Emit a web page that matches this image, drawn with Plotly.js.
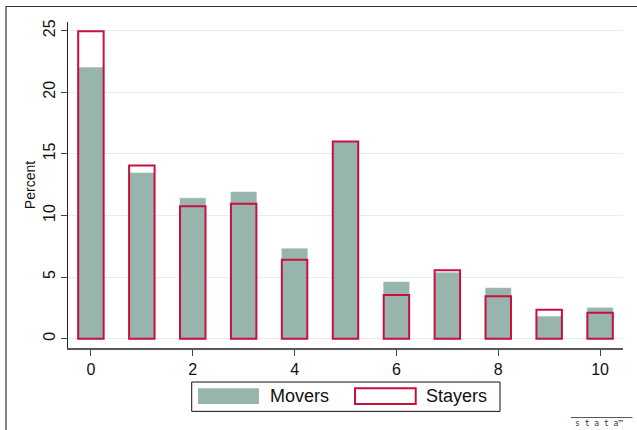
<!DOCTYPE html>
<html>
<head>
<meta charset="utf-8">
<script src="https://cdn.plot.ly/plotly-3.0.1.min.js"></script>
<style>
  html, body { margin: 0; padding: 0; background: #ffffff; }
  #chart { width: 637px; height: 430px; }
</style>
</head>
<body>
<div id="chart"></div>
<script>
// ---- data ----
const categories = [0, 1, 2, 3, 4, 5, 6, 7, 8, 9, 10];
const movers  = [22.0, 13.45, 11.4, 11.9, 7.3, 16.0, 4.6, 5.35, 4.1, 1.8, 2.5];
const stayers = [24.95, 14.05, 10.75, 10.95, 6.4, 16.0, 3.55, 5.55, 3.45, 2.35, 2.1];
const seriesNames = ["Movers", "Stayers"];
const xTicks = [0, 2, 4, 6, 8, 10];
const yTicks = [0, 5, 10, 15, 20, 25];

const FONT = "Liberation Sans, Arial, Helvetica, sans-serif";
const moverColor = "#97b5ad";
const stayerColor = "#c8103e";

const traces = [
  {
    type: "bar", name: seriesNames[0], x: categories, y: movers, width: 0.5,
    marker: { color: moverColor, line: { color: "#a3bdb6", width: 0.6 } },
    showlegend: false
  },
  {
    type: "bar", name: seriesNames[1], x: categories, y: stayers, width: 0.5,
    marker: { color: "rgba(0,0,0,0)", line: { color: stayerColor, width: 2 } },
    showlegend: false
  }
];

// legend drawn in paper coordinates
const legY0 = -0.1234, legY1 = -0.1719, legYc = -0.1483;
const layout = {
  width: 637, height: 430, autosize: false,
  paper_bgcolor: "#ffffff", plot_bgcolor: "#ffffff",
  margin: { l: 68, r: 14, t: 22, b: 82, pad: 0 },
  barmode: "overlay",
  font: { family: FONT, color: "#111111" },
  xaxis: {
    range: [-0.45, 10.45], tickvals: xTicks, ticktext: xTicks.map(String),
    showgrid: false, zeroline: false, showline: true, linecolor: "#5a5a5a", linewidth: 1.5,
    ticks: "outside", ticklen: 6, tickcolor: "#444444", tickwidth: 1,
    tickfont: { family: FONT, size: 16, color: "#111111" }
  },
  yaxis: {
    range: [-0.76, 25.7], tickvals: yTicks, ticktext: yTicks.map(String),
    tickangle: -90,
    showgrid: true, gridcolor: "#e6eff0", gridwidth: 1, zeroline: false,
    showline: true, linecolor: "#222222", linewidth: 1,
    ticks: "outside", ticklen: 6, tickcolor: "#444444", tickwidth: 1,
    tickfont: { family: FONT, size: 16, color: "#111111" },
    title: { text: "Percent", font: { family: FONT, size: 14, color: "#111111" }, standoff: 1 }
  },
  shapes: [
    // outer frame
    { type: "rect", xref: "paper", yref: "paper", x0: -0.1117, x1: 1.2, y0: 1.0476, y1: -0.6,
      line: { color: "#333333", width: 1.2 }, fillcolor: "rgba(0,0,0,0)", layer: "below" },
    // legend box
    { type: "rect", xref: "paper", yref: "paper", x0: 0.2229, x1: 0.7784, y0: -0.1044, y1: -0.1944,
      line: { color: "#111111", width: 1 }, fillcolor: "#ffffff" },
    // legend swatches
    { type: "rect", xref: "paper", yref: "paper", x0: 0.2342, x1: 0.3441, y0: legY0, y1: legY1,
      line: { width: 0 }, fillcolor: moverColor },
    { type: "rect", xref: "paper", yref: "paper", x0: 0.5171, x1: 0.6265, y0: legY0, y1: legY1,
      line: { color: stayerColor, width: 2 }, fillcolor: "#ffffff" },
    // stata logo line
    { type: "line", xref: "paper", yref: "paper", x0: 0.906, x1: 1.017, y0: -0.2133, y1: -0.2133,
      line: { color: "#555555", width: 1 } }
  ],
  annotations: [
    { xref: "paper", yref: "paper", x: 0.3605, y: legYc, xanchor: "left", yanchor: "middle",
      text: seriesNames[0], showarrow: false, font: { family: FONT, size: 18, color: "#111111" } },
    { xref: "paper", yref: "paper", x: 0.6415, y: legYc, xanchor: "left", yanchor: "middle",
      text: seriesNames[1], showarrow: false, font: { family: FONT, size: 18, color: "#111111" } },
    { xref: "paper", yref: "paper", x: 0.957, y: -0.2325, xanchor: "center", yanchor: "middle",
      text: "s t a t a™", showarrow: false, font: { family: "DejaVu Sans Mono, monospace", size: 8, color: "#333333" } }
  ]
};

Plotly.newPlot("chart", traces, layout, { staticPlot: true, displayModeBar: false });
</script>
</body>
</html>
